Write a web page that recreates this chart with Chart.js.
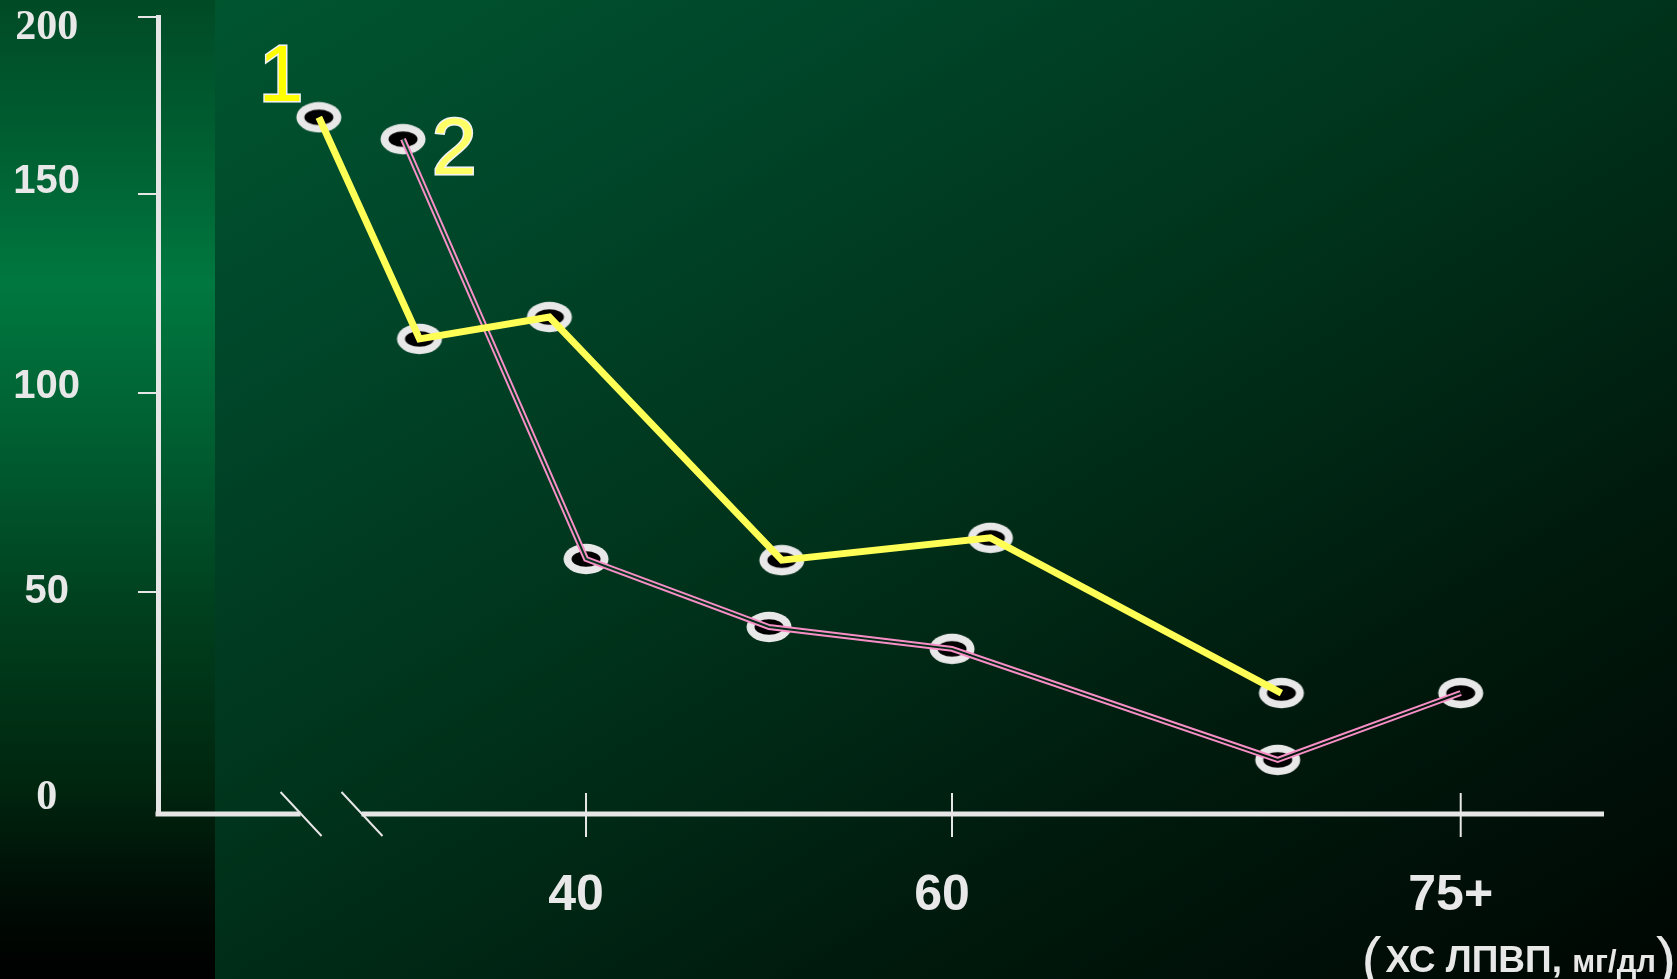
<!DOCTYPE html>
<html>
<head>
<meta charset="utf-8">
<script src="https://cdn.jsdelivr.net/npm/chart.js@4"></script>
<style>
  html, body { margin: 0; padding: 0; background: #000; }
  #wrap { position: relative; width: 1677px; height: 979px; overflow: hidden;
    background: linear-gradient(to bottom right, #005a31 0%, #00472a 25%, #00331b 50%, #001a0d 75%, #000603 100%); }
  #strip { position: absolute; left: 0; top: 0; width: 215px; height: 979px;
    background: linear-gradient(to bottom, #004a26 0%, #006434 18%, #00783f 29%, #005e31 45%, #00401f 62%, #00260f 80%, #000a04 93%, #000000 100%); }
  #c { position: absolute; left: 0; top: 0; }
</style>
</head>
<body>
<div id="wrap">
  <div id="strip"></div>
  <canvas id="c" width="1677" height="979"></canvas>
</div>
<script>
// series 1 (yellow) and series 2 (pink), x in mg/dl positions on the broken axis
const seriesNames = ['1', '2'];
const yellowX = [25.4, 30.9, 38.0, 50.7, 62.1, 78.0];
const yellowY = [169.3, 113.6, 119.1, 58.0, 63.6, 24.6];
const pinkX = [30.0, 40.0, 50.0, 60.0, 77.8, 87.8];
const pinkY = [163.8, 58.3, 41.2, 35.7, 7.8, 24.6];

// axes
const xTickValues = [40, 60, 87.8];
const xTickLabels = ['40', '60', '75+'];
const xBreak = [24.4, 27.73];
const xMin = 16.61, xMax = 95.63;
const yTickValues = [0, 50, 100, 150, 194.5];
const yTickLabels = ['0', '50', '100', '150', '200'];
const yMin = -5.8, yMax = 194.5;
const xTitle = ['(', 'ХС ЛПВП, ', 'мг/дл', ')'];

// small vertical nudges (px) of some y labels off their tick
const yLabelNudge = { 0: 7, 100: -6, 150: -12, 194.5: 11 };

const AXIS = '#e6e6e6';
const LABEL = '#e8e8e8';

const toPoints = (xs, ys) => xs.map((x, i) => ({ x: x, y: ys[i] }));

// ring marker: light oval with a black centre
function makeMarker() {
    const c = document.createElement('canvas');
    c.width = 48; c.height = 32;
    const g = c.getContext('2d');
    g.beginPath();
    g.ellipse(24, 16, 22.5, 15.2, 0, 0, Math.PI * 2);
    g.fillStyle = '#e8e8e8';
    g.fill();
    g.beginPath();
    g.ellipse(24, 16, 14.5, 7.8, 0, 0, Math.PI * 2);
    g.fillStyle = '#000';
    g.fill();
    return c;
}
const marker = makeMarker();

// x axis with a break, drawn through the x scale
const brokenAxis = {
    id: 'brokenAxis',
    beforeDatasetsDraw(chart) {
        const { ctx, chartArea, scales: { x } } = chart;
        const y0 = chartArea.bottom;
        const b1 = x.getPixelForValue(xBreak[0]);
        const b2 = x.getPixelForValue(xBreak[1]);
        ctx.save();
        ctx.strokeStyle = AXIS;
        ctx.lineWidth = 5;
        ctx.beginPath();
        ctx.moveTo(chartArea.left - 2.5, y0);
        ctx.lineTo(b1, y0);
        ctx.moveTo(b2, y0);
        ctx.lineTo(chartArea.right, y0);
        ctx.stroke();
        ctx.lineWidth = 2;
        ctx.beginPath();
        [b1, b2].forEach(px => {
            ctx.moveTo(px - 20, y0 - 22);
            ctx.lineTo(px + 21, y0 + 22);
        });
        xTickValues.forEach(v => {
            const px = x.getPixelForValue(v);
            ctx.moveTo(px, y0 - 21);
            ctx.lineTo(px, y0 + 23);
        });
        ctx.stroke();
        ctx.restore();
    }
};

// the pink double line: the gap dataset cuts through the wide pink stroke
const hollowLine = {
    id: 'hollowLine',
    beforeDatasetDraw(chart, args) {
        if (chart.data.datasets[args.index].cutout) {
            chart.ctx.save();
            chart.ctx.globalCompositeOperation = 'destination-out';
        }
    },
    afterDatasetDraw(chart, args) {
        if (chart.data.datasets[args.index].cutout) chart.ctx.restore();
    }
};

// series numbers next to the first markers, and the x axis unit
const textBits = {
    id: 'textBits',
    afterDatasetsDraw(chart) {
        const { ctx, scales: { x, y } } = chart;
        ctx.save();
        ctx.textBaseline = 'alphabetic';
        ctx.textAlign = 'left';
        ctx.font = '80px "Liberation Sans"';
        ctx.lineWidth = 3;
        ctx.strokeStyle = '#f2f2f2';
        const p1 = [x.getPixelForValue(yellowX[0]) - 60, y.getPixelForValue(yellowY[0]) - 16];
        ctx.strokeText(seriesNames[0], p1[0], p1[1]);
        ctx.fillStyle = '#ffff00';
        ctx.fillText(seriesNames[0], p1[0], p1[1]);
        const p2 = [x.getPixelForValue(pinkX[0]) + 29, y.getPixelForValue(pinkY[0]) + 35];
        ctx.strokeText(seriesNames[1], p2[0], p2[1]);
        ctx.fillStyle = '#ffff66';
        ctx.fillText(seriesNames[1], p2[0], p2[1]);

        // "(ХС ЛПВП, мг/дл)" right aligned at the bottom
        const fonts = ['60px "Liberation Sans"', 'bold 37px "Liberation Sans"', 'bold 31px "Liberation Sans"', '60px "Liberation Sans"'];
        let total = 0;
        const widths = xTitle.map((t, i) => { ctx.font = fonts[i]; const w = ctx.measureText(t).width; total += w; return w; });
        let px = 1676 - total - 4;
        ctx.fillStyle = LABEL;
        xTitle.forEach((t, i) => {
            ctx.font = fonts[i];
            ctx.fillText(t, px, i === 0 || i === 3 ? 979 : 972);
            px += widths[i] + (i === 0 ? 4 : 0);
        });
        ctx.restore();
    }
};

new Chart(document.getElementById('c'), {
    type: 'line',
    data: {
        datasets: [
            {
                data: toPoints(yellowX, yellowY),
                borderColor: '#ffff55',
                borderWidth: 7,
                borderJoinStyle: 'miter',
                pointRadius: 0,
                order: 0
            },
            {
                data: toPoints(pinkX, pinkY),
                borderColor: '#000',
                borderWidth: 2,
                pointRadius: 0,
                cutout: true,
                order: 1
            },
            {
                data: toPoints(pinkX, pinkY),
                borderColor: '#f78fc6',
                borderWidth: 6,
                pointRadius: 0,
                order: 2
            },
            {
                data: toPoints(yellowX, yellowY).concat(toPoints(pinkX, pinkY)),
                showLine: false,
                pointStyle: marker,
                pointRadius: 5,
                order: 3
            }
        ]
    },
    options: {
        responsive: false,
        animation: false,
        events: [],
        layout: { autoPadding: false, padding: { top: 17, right: 73, left: 0, bottom: 0 } },
        plugins: { legend: { display: false }, tooltip: { enabled: false } },
        scales: {
            x: {
                type: 'linear',
                min: xMin,
                max: xMax,
                afterBuildTicks: s => { s.ticks = xTickValues.map(v => ({ value: v })); },
                afterFit: s => { s.height = 165; s.paddingLeft = 0; s.paddingRight = 0; },
                grid: { display: false, drawTicks: false },
                border: { display: false },
                ticks: {
                    callback: (v, i) => xTickLabels[i],
                    color: LABEL,
                    font: { family: '"Liberation Sans"', size: 50, weight: 'bold' },
                    padding: 52,
                    labelOffset: -10,
                    autoSkip: false,
                    maxRotation: 0
                }
            },
            y: {
                min: yMin,
                max: yMax,
                afterBuildTicks: s => { s.ticks = yTickValues.map(v => ({ value: v })); },
                // labels sit far left of the axis; keep that gap out of the top/bottom padding
                afterFit: s => { s.width = 158; s.paddingTop = 0; s.paddingBottom = 0; },
                grid: {
                    drawOnChartArea: false,
                    drawTicks: true,
                    tickLength: 20,
                    lineWidth: 2,
                    color: c => (c.tick && c.tick.value === 0) ? 'rgba(0,0,0,0)' : AXIS
                },
                border: { display: true, color: AXIS, width: 5 },
                ticks: {
                    // an empty line before/after the label shifts it by half a line
                    callback: (v, i) => {
                        const n = yLabelNudge[v] || 0;
                        if (n > 0) return ['', yTickLabels[i]];
                        if (n < 0) return [yTickLabels[i], ''];
                        return yTickLabels[i];
                    },
                    crossAlign: 'center',
                    padding: 58,
                    color: LABEL,
                    font: c => {
                        const v = c.tick ? c.tick.value : 50;
                        const serif = v === 0 || v === yMax;
                        const size = serif ? 42 : 40;
                        const n = Math.abs(yLabelNudge[v] || 0);
                        return {
                            family: serif ? '"Liberation Serif"' : '"Liberation Sans"',
                            size: size,
                            weight: 'bold',
                            lineHeight: n ? (2 * n) / size : 1.2
                        };
                    }
                }
            }
        }
    },
    plugins: [brokenAxis, hollowLine, textBits]
});
</script>
</body>
</html>
